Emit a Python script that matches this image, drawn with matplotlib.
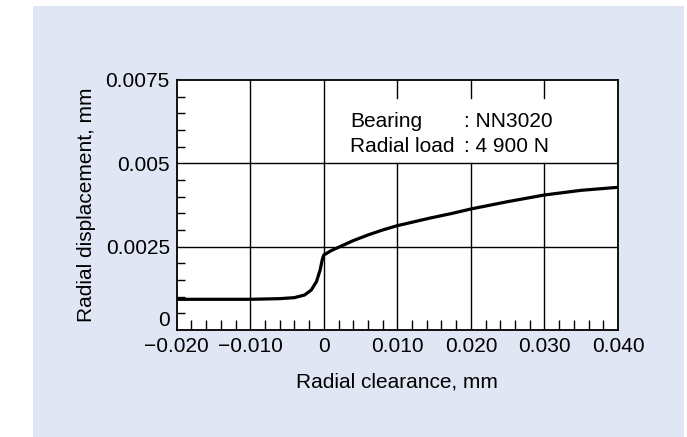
import matplotlib
matplotlib.use('Agg')
import matplotlib.pyplot as plt
from matplotlib.patches import Rectangle
from matplotlib.ticker import MultipleLocator

plt.rcParams['font.family'] = ['Liberation Sans', 'DejaVu Sans']

# Curve (radial clearance, mm -> radial displacement, mm)
clearance = [-0.020, -0.015, -0.010, -0.006, -0.004, -0.0026, -0.0017, -0.0010,
             -0.0005, -0.0002, 0.0, 0.001, 0.002, 0.004, 0.006, 0.008, 0.010,
             0.0145, 0.0175, 0.020, 0.0225, 0.025, 0.030, 0.035, 0.040]
displacement = [0.00092, 0.00092, 0.00092, 0.00094, 0.00097, 0.00105, 0.00120, 0.00145,
                0.00180, 0.00212, 0.00225, 0.00238, 0.00248, 0.00268, 0.00285, 0.00300,
                0.00313, 0.00336, 0.00350, 0.00363, 0.00374, 0.00385, 0.00405, 0.00419,
                0.00428]

x_ticks = [-0.020, -0.010, 0.0, 0.010, 0.020, 0.030, 0.040]
x_labels = ['\u22120.020', '\u22120.010', '0', '0.010', '0.020', '0.030', '0.040']
y_ticks = [0.0, 0.0025, 0.005, 0.0075]
y_labels = ['0', '0.0025', '0.005', '0.0075']

note_keys = ['Bearing', 'Radial load']
note_vals = [': NN3020', ': 4 900 N']

fs = 15

fig = plt.figure(figsize=(6.87, 4.37), dpi=100)
fig.patch.set_facecolor('white')
# light blue panel behind the chart
fig.patches.append(Rectangle((33 / 687, 0), 651 / 687, 431 / 437,
                             transform=fig.transFigure, facecolor='#E1E6F4',
                             edgecolor='none', zorder=-10))

ax = fig.add_axes([0.2572, 0.2449, 0.6424, 0.5721])
ax.set_facecolor('white')
ax.set_xlim(-0.020, 0.040)
ax.set_ylim(0, 0.0075)

# grid: full lines, except the ones behind the note box (only short top ticks there)
box_bottom = 0.005 / 0.0075
for xv in x_ticks[1:-1]:
    if xv > 0:
        ax.axvline(xv, ymin=0, ymax=box_bottom, color='black', lw=1.0, zorder=1)
        ax.axvline(xv, ymin=0.928, ymax=1, color='black', lw=1.0, zorder=1)
    else:
        ax.axvline(xv, color='black', lw=1.0, zorder=1)
for yv in y_ticks[1:-1]:
    ax.axhline(yv, color='black', lw=1.0, zorder=1)

ax.plot(clearance, displacement, color='black', lw=2.3, zorder=3,
        solid_joinstyle='round', solid_capstyle='butt')

ax.set_xticks(x_ticks)
ax.set_xticklabels(x_labels)
ax.set_yticks(y_ticks)
ax.set_yticklabels(y_labels)
ax.xaxis.set_minor_locator(MultipleLocator(0.002))
ax.yaxis.set_minor_locator(MultipleLocator(0.0005))
ax.tick_params(which='major', length=0, labelsize=fs, colors='black')
ax.tick_params(axis='x', which='major', pad=5)
ax.tick_params(axis='y', which='major', pad=5)
ax.tick_params(which='minor', direction='in', width=1.0, color='black')
ax.tick_params(axis='x', which='minor', length=7)
ax.tick_params(axis='y', which='minor', length=6)
ax.get_yticklabels()[0].set_va('bottom')

for s in ax.spines.values():
    s.set_linewidth(1.3)
    s.set_color('black')

ax.set_xlabel('Radial clearance, mm', fontsize=fs, labelpad=12)
ax.set_ylabel('Radial displacement, mm', fontsize=fs, labelpad=7)

for i, (k, v) in enumerate(zip(note_keys, note_vals)):
    yb = 0.813 - i * 0.100
    ax.text(0.393, yb, k, transform=ax.transAxes, fontsize=fs,
            va='baseline', ha='left', zorder=4)
    ax.text(0.650, yb, v, transform=ax.transAxes, fontsize=fs,
            va='baseline', ha='left', zorder=4)

fig.savefig('out.png', dpi=100, facecolor=fig.get_facecolor())
